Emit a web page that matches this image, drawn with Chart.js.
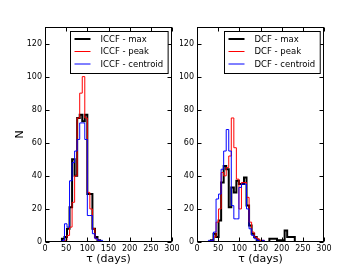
<!DOCTYPE html>
<html>
<head>
<meta charset="utf-8">
<script src="https://cdn.jsdelivr.net/npm/chart.js@4"></script>
<style>
  html, body { margin: 0; padding: 0; background: #fff; }
  #wrap { position: relative; width: 360px; height: 270px; overflow: hidden; }
  canvas { position: absolute; top: 0; }
  #iccfChart { left: 0; }
  #dcfChart { left: 180px; }
</style>
</head>
<body>
<div id="wrap">
  <canvas id="iccfChart" width="190" height="270"></canvas>
  <canvas id="dcfChart" width="180" height="270"></canvas>
</div>
<script>
// ===== DATA =====
const xTicks = [0, 50, 100, 150, 200, 250, 300];
const yTicks = [0, 20, 40, 60, 80, 100, 120];

// ICCF histograms (bin edges in days, counts per bin)
const iccfEdges = [28, 34, 40, 46, 52, 58, 64, 70, 76, 82, 88, 94, 100, 106, 112, 118, 124, 130, 136, 142];
const iccfMax = [0, 0, 0, 2, 3, 8, 21, 50, 40, 75, 77, 73, 77, 29, 29, 8, 3, 1, 0];
const iccfPeak = [0, 0, 0, 0, 1, 4, 9, 24, 40, 75, 90, 100, 75, 30, 20, 8, 2, 1, 0];
const iccfCentroid = [0, 0, 0, 1, 11, 9, 37, 48, 55, 62, 72, 72, 62, 16, 16, 5, 2, 1, 1];
const iccfRangeEnd = 264;

// DCF histograms
const dcfEdges = [27, 33, 39, 45, 51, 57, 63, 69, 75, 81, 87, 93, 99, 105, 111, 117, 123, 129, 135, 141,
                  147, 153, 159, 165, 171, 177, 183, 189, 195, 201, 207, 213, 219, 225, 231, 237, 243];
const dcfMax = [0, 0, 1, 5, 3, 13, 36, 46, 44, 21, 33, 30, 37, 35, 35, 39, 22, 10, 5, 3,
                1, 0, 0, 0, 0, 2, 2, 2, 1, 1, 1, 7, 3, 3, 3, 0];
const dcfPeak = [0, 0, 1, 3, 12, 20, 42, 40, 45, 52, 75, 57, 38, 20, 36, 36, 27, 12, 6, 3,
                 2, 1, 1, 0, 0, 0, 0, 0, 0, 0, 0, 0, 0, 0, 0, 0];
const dcfCentroid = [0, 1, 1, 6, 26, 29, 44, 55, 68, 55, 22, 14, 14, 33, 35, 35, 20, 8, 4, 2,
                     1, 0, 1, 0, 0, 0, 0, 0, 0, 0, 0, 0, 0, 0, 0, 0];
const dcfRangeEnd = 243;

const FONT = 'DejaVu Sans';

// turn edges + counts into step points
function stepPoints(edges, counts, rangeEnd) {
    const pts = [{ x: edges[0], y: 0 }];
    counts.forEach((c, i) => pts.push({ x: edges[i], y: c }));
    pts.push({ x: edges[counts.length], y: 0 });
    pts.push({ x: rangeEnd, y: 0 });
    return pts;
}

// ===== FRAME, INWARD TICKS AND LEGEND =====
const framePlugin = {
    id: 'frame',
    afterDatasetsDraw(chart) {
        const { ctx, chartArea: a, scales: { x, y } } = chart;
        const L = Math.round(a.left) + 0.5, R = Math.round(a.right) - 0.5;
        const T = Math.round(a.top) + 0.5, B = Math.round(a.bottom) - 0.5;
        ctx.save();
        ctx.strokeStyle = '#000';
        ctx.lineWidth = 1;
        ctx.beginPath();
        xTicks.forEach(v => {
            const px = Math.round(x.getPixelForValue(v)) + 0.5;
            ctx.moveTo(px, B); ctx.lineTo(px, B - 4);
            ctx.moveTo(px, T); ctx.lineTo(px, T + 4);
        });
        yTicks.forEach(v => {
            const py = Math.round(y.getPixelForValue(v)) + 0.5;
            ctx.moveTo(L, py); ctx.lineTo(L + 4, py);
            ctx.moveTo(R, py); ctx.lineTo(R - 4, py);
        });
        ctx.stroke();
        ctx.strokeRect(L, T, R - L, B - T);

        // legend box
        const sets = chart.data.datasets;
        ctx.font = '8.5px "' + FONT + '"';
        const textW = Math.max(...sets.map(d => ctx.measureText(d.label).width));
        const boxW = textW + 35, boxH = 42;
        const bx = Math.round(a.right - 4 - boxW) + 0.5, by = Math.round(a.top + 4) + 0.5;
        ctx.fillStyle = '#fff';
        ctx.fillRect(bx, by, boxW, boxH);
        ctx.strokeRect(bx, by, boxW, boxH);
        ctx.textBaseline = 'middle';
        ctx.textAlign = 'left';
        sets.forEach((d, i) => {
            const ly = by + 7.5 + i * 12.5;
            ctx.strokeStyle = d.borderColor;
            ctx.lineWidth = d.borderWidth;
            ctx.beginPath();
            ctx.moveTo(bx + 4, ly); ctx.lineTo(bx + 20, ly);
            ctx.stroke();
            ctx.fillStyle = '#000';
            ctx.fillText(d.label, bx + 30, ly + 0.5);
        });
        ctx.restore();
    }
};

function makeChart(id, name, edges, maxC, peakC, centC, rangeEnd, yWidth, rightPad, showN) {
    const ds = (label, counts, color, width, order) => ({
        label: label,
        data: stepPoints(edges, counts, rangeEnd),
        borderColor: color,
        borderWidth: width,
        stepped: 'after',
        pointRadius: 0,
        fill: false,
        order: order
    });
    return new Chart(document.getElementById(id), {
        type: 'line',
        data: {
            datasets: [
                ds(name + ' - max', maxC, '#000000', 2, 3),
                ds(name + ' - peak', peakC, '#ff0000', 1, 2),
                ds(name + ' - centroid', centC, '#0000ff', 1, 1)
            ]
        },
        options: {
            responsive: false,
            animation: false,
            layout: { padding: { left: 0, top: 27, right: rightPad, bottom: 0 } },
            plugins: { legend: { display: false }, tooltip: { enabled: false } },
            scales: {
                x: {
                    type: 'linear',
                    min: 0,
                    max: 300,
                    afterBuildTicks: s => { s.ticks = xTicks.map(v => ({ value: v })); },
                    afterFit: s => { s.height = 28; },
                    ticks: { font: { family: FONT, size: 8 }, color: '#000', padding: 2, maxRotation: 0, autoSkip: false },
                    grid: { display: false, drawTicks: false },
                    border: { display: false },
                    title: {
                        display: true,
                        text: 'τ (days)',
                        color: '#000',
                        font: { family: FONT, size: 11 },
                        padding: { top: 0, bottom: 4 }
                    }
                },
                y: {
                    min: 0,
                    max: 130,
                    afterBuildTicks: s => { s.ticks = yTicks.map(v => ({ value: v })); },
                    afterFit: s => { s.width = yWidth; },
                    ticks: { font: { family: FONT, size: 8 }, color: '#000', padding: 3 },
                    grid: { display: false, drawTicks: false },
                    border: { display: false },
                    title: {
                        display: showN,
                        text: 'N',
                        color: '#000',
                        font: { family: FONT, size: 11 },
                        padding: { top: 14, bottom: 0 }
                    }
                }
            }
        },
        plugins: [framePlugin]
    });
}

makeChart('iccfChart', 'ICCF', iccfEdges, iccfMax, iccfPeak, iccfCentroid, iccfRangeEnd, 45, 18, true);
makeChart('dcfChart', 'DCF', dcfEdges, dcfMax, dcfPeak, dcfCentroid, dcfRangeEnd, 17, 36, false);
</script>
</body>
</html>
